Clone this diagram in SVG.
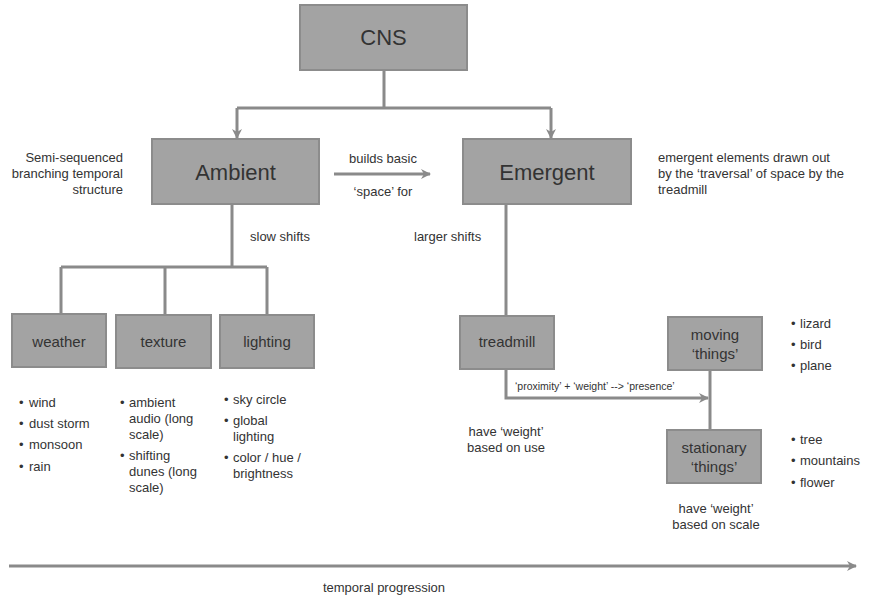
<svg xmlns="http://www.w3.org/2000/svg" width="870" height="597" viewBox="0 0 870 597">
<defs>
<marker id="ah" viewBox="0 0 10 10" refX="9" refY="5" markerWidth="10" markerHeight="10" markerUnits="userSpaceOnUse" orient="auto">
<path d="M0,0 L10,5 L0,10 L3,5 Z" fill="#8a8a8a"/>
</marker>
<style>
.box{fill:#a3a3a3;stroke:#8c8c8c;stroke-width:2}
.ln{fill:none;stroke:#8a8a8a;stroke-width:3}
.t{font-family:"Liberation Sans",Arial,sans-serif;fill:#333}
.big{font-size:22px;text-anchor:middle}
.mid{font-size:15px;text-anchor:middle}
.sm{font-size:13px}
.xs{font-size:10.5px}
</style>
</defs>
<rect width="870" height="597" fill="#fff"/>
<g id="connectors">
<path class="ln" d="M384,70 V108 M237,108 H551"/>
<path class="ln" d="M237,108 V138" marker-end="url(#ah)"/>
<path class="ln" d="M551,108 V138" marker-end="url(#ah)"/>
<path class="ln" d="M334,174 H430" stroke-width="2" marker-end="url(#ah)"/>
<path class="ln" d="M232,204 V267 M61,267 H267 M61,267 V314 M165,267 V314 M267,267 V314"/>
<path class="ln" d="M506,204 V316"/>
<path class="ln" d="M506,369 V398 H708" marker-end="url(#ah)"/>
<path class="ln" d="M710,370 V430"/>
<path class="ln" d="M9,566 H856" marker-end="url(#ah)"/>
</g>
<g id="cns"><rect class="box" x="300" y="5" width="167" height="65"/><text class="t big" x="383.500" y="45">CNS</text></g>
<g id="ambient"><rect class="box" x="152" y="139" width="167" height="65"/><text class="t big" x="235.500" y="180">Ambient</text></g>
<g id="emergent"><rect class="box" x="463" y="139" width="168" height="65"/><text class="t big" x="547" y="180">Emergent</text></g>
<g id="weather"><rect class="box" x="12" y="314" width="94" height="53"/><text class="t mid" x="59" y="347">weather</text></g>
<g id="texture"><rect class="box" x="116" y="315" width="95" height="53"/><text class="t mid" x="163.500" y="347">texture</text></g>
<g id="lighting"><rect class="box" x="220" y="315" width="94" height="53"/><text class="t mid" x="267" y="347">lighting</text></g>
<g id="treadmill"><rect class="box" x="460" y="316" width="94" height="53"/><text class="t mid" x="507" y="347">treadmill</text></g>
<g id="moving"><rect class="box" x="668" y="317" width="94" height="53"/><text class="t mid" x="715" y="340">moving</text><text class="t mid" x="715" y="359">‘things’</text></g>
<g id="stationary"><rect class="box" x="667" y="430" width="94" height="53"/><text class="t mid" x="714" y="453">stationary</text><text class="t mid" x="714" y="472">‘things’</text></g>
<g id="labels">
<text class="t sm" text-anchor="end" x="123" y="162">Semi-sequenced</text>
<text class="t sm" text-anchor="end" x="123" y="178">branching temporal</text>
<text class="t sm" text-anchor="end" x="123" y="194">structure</text>
<text class="t sm" text-anchor="middle" x="383" y="163">builds basic</text>
<text class="t sm" text-anchor="middle" x="383" y="196">‘space’ for</text>
<text class="t sm" x="658" y="162">emergent elements drawn out</text>
<text class="t sm" x="658" y="178">by the ‘traversal’ of space by the</text>
<text class="t sm" x="658" y="194">treadmill</text>
<text class="t sm" x="250" y="241">slow shifts</text>
<text class="t sm" x="414" y="241">larger shifts</text>
<text class="t xs" x="515" y="390">‘proximity’ + ‘weight’ --&gt; ‘presence’</text>
<text class="t sm" text-anchor="middle" x="506" y="436">have ‘weight’</text>
<text class="t sm" text-anchor="middle" x="506" y="452">based on use</text>
<text class="t sm" text-anchor="middle" x="716" y="513">have ‘weight’</text>
<text class="t sm" text-anchor="middle" x="716" y="529">based on scale</text>
<text class="t sm" text-anchor="middle" x="384" y="592">temporal progression</text>
</g>
<g id="lists" class="t sm">
<text x="19" y="407">• <tspan x="29">wind</tspan></text>
<text x="19" y="428">• <tspan x="29">dust storm</tspan></text>
<text x="19" y="449">• <tspan x="29">monsoon</tspan></text>
<text x="19" y="471">• <tspan x="29">rain</tspan></text>
<text x="120" y="407">• <tspan x="129">ambient</tspan></text>
<text x="129" y="423">audio (long</text>
<text x="129" y="439">scale)</text>
<text x="120" y="460">• <tspan x="129">shifting</tspan></text>
<text x="129" y="476">dunes (long</text>
<text x="129" y="492">scale)</text>
<text x="224" y="404">• <tspan x="233">sky circle</tspan></text>
<text x="224" y="425">• <tspan x="233">global</tspan></text>
<text x="233" y="441">lighting</text>
<text x="224" y="462">• <tspan x="233">color / hue /</tspan></text>
<text x="233" y="478">brightness</text>
<text x="791" y="328">• <tspan x="800">lizard</tspan></text>
<text x="791" y="349">• <tspan x="800">bird</tspan></text>
<text x="791" y="370">• <tspan x="800">plane</tspan></text>
<text x="791" y="444">• <tspan x="800">tree</tspan></text>
<text x="791" y="465">• <tspan x="800">mountains</tspan></text>
<text x="791" y="487">• <tspan x="800">flower</tspan></text>
</g>
</svg>
